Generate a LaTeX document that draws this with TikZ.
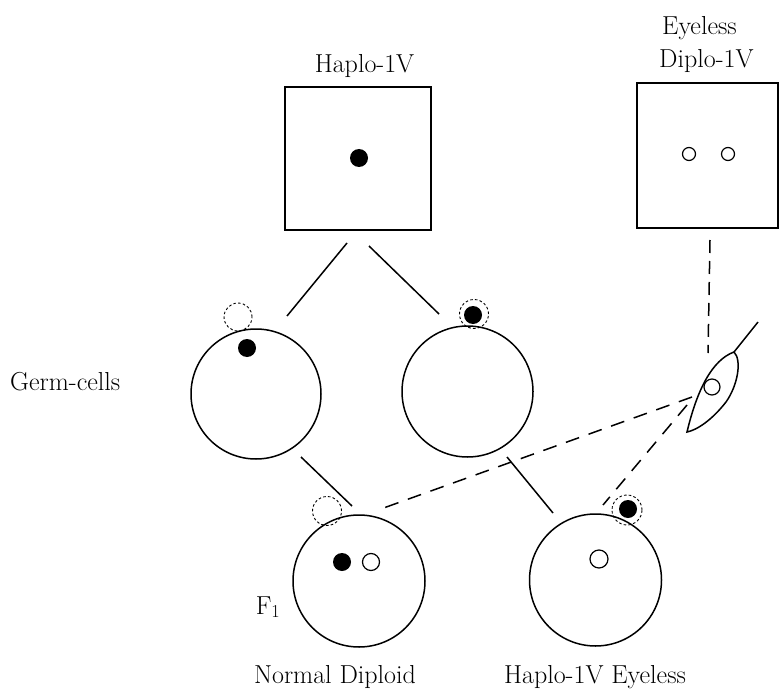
\documentclass[tikz,border=0pt]{standalone}
\begin{document}
\begin{tikzpicture}[x=1pt,y=-1pt,
  stroke/.style={line width=1.5pt},
  cellbody/.style={circle, draw, line width=1.5pt, inner sep=0pt, minimum size=#1},
  chromfull/.style={circle, fill=black, inner sep=0pt, minimum size=18pt},
  chromopen/.style={circle, draw, line width=1.2pt, inner sep=0pt, minimum size=#1},
  halo/.style={circle, draw, line width=0.9pt, dash pattern=on 2.6pt off 2.2pt, inner sep=0pt, minimum size=#1},
  flybox/.style={draw, line width=1.5pt, inner sep=0pt},
  longdash/.style={line width=1.5pt, dash pattern=on 14pt off 10pt},
  vdash/.style={line width=1.5pt, dash pattern=on 13pt off 8pt},
  lab/.style={font=\fontsize{26}{30}\selectfont, anchor=base, inner sep=0pt}]
\useasboundingbox (0,0) rectangle (779,698);

% parent flies
\node[flybox, minimum width=146pt, minimum height=143pt] (hbox) at (358,158.5) {};
\node[chromfull] (hdot) at (359,158) {};
\node[lab] (hlab) at (364.5,73) {Haplo-1V};

\node[flybox, minimum width=141pt, minimum height=145pt] (ebox) at (707.5,155.5) {};
\node[chromopen=13pt] (eo1) at (689,154) {};
\node[chromopen=13pt] (eo2) at (728,154) {};
\node[lab, anchor=base west] (elab1) at (662,35) {Eyeless};
\node[lab, anchor=base west] (elab2) at (659,68) {Diplo-1V};

% germ cells of the haplo-IV parent
\node[cellbody=130pt] (gl) at (256,394) {};
\node[chromfull] (gldot) at (247,348) {};
\node[halo=28pt] (glhalo) at (238,317) {};

\node[cellbody=131pt] (gr) at (467.5,391.5) {};
\node[halo=29pt] (grhalo) at (474,314) {};
\node[chromfull] (grdot) at (473,315) {};

\node[lab, anchor=base west] (germlab) at (10,390) {Germ-cells};

% sperm of the eyeless parent
\draw[stroke] (734,352) .. controls (712,360) and (697,390) .. (687,432)
  .. controls (697,430) and (712,420) .. (726,402)
  .. controls (738,385) and (742,360) .. (734,352) -- cycle;
\coordinate (spermhead) at (734,352);
\coordinate (spermtail) at (758,322);
\draw[stroke] (spermhead) -- (spermtail);
\node[chromopen=16pt] (spermnuc) at (712,387) {};

% F1 offspring
\node[cellbody=132pt] (fl) at (359,581) {};
\node[chromfull] (fldot) at (342,562) {};
\node[chromopen=17pt] (flopen) at (371,562) {};
\node[halo=29pt] (flhalo) at (327,511) {};

\node[cellbody=132pt] (fr) at (595.5,580) {};
\node[chromopen=18pt] (fropen) at (599,559) {};
\node[halo=30pt] (frhalo) at (627,510) {};
\node[chromfull] (frdot) at (628,509) {};

\node[lab] (f1lab) at (268,614) {F\textsubscript{1}};
\node[lab] (nlab) at (335,683) {Normal Diploid};
\node[lab] (elab) at (595,683) {Haplo-1V Eyeless};

% solid descent lines
\coordinate (h1) at (347,243);  \coordinate (h1e) at (287,316);
\coordinate (h2) at (369,246);  \coordinate (h2e) at (439,314);
\coordinate (g1) at (301,457);  \coordinate (g1e) at (352,506);
\coordinate (g2) at (507,457);  \coordinate (g2e) at (553,513);
\draw[stroke] (h1) -- (h1e);
\draw[stroke] (h2) -- (h2e);
\draw[stroke] (g1) -- (g1e);
\draw[stroke] (g2) -- (g2e);

% dashed lines of the sperm
\coordinate (e1) at (710,240);  \coordinate (e1e) at (708,353);
\coordinate (s1) at (692,397);  \coordinate (s1e) at (378,510);
\coordinate (s2) at (687,405);  \coordinate (s2e) at (603,505);
\draw[vdash] (e1) -- (e1e);
\draw[longdash] (s1) -- (s1e);
\draw[longdash] (s2) -- (s2e);
\end{tikzpicture}
\end{document}
